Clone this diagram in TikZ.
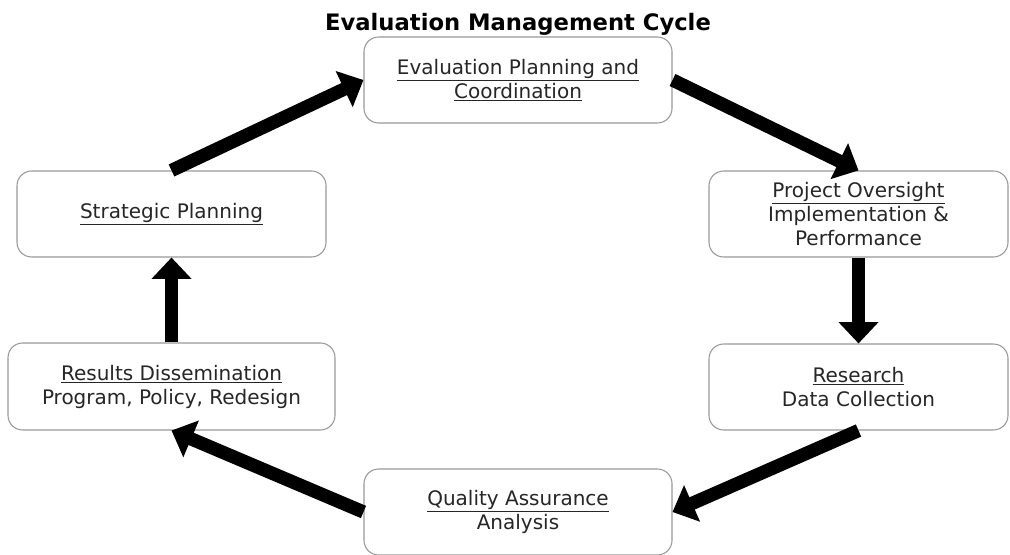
\documentclass[tikz,border=0pt]{standalone}
\usepackage{fontspec}
\setmainfont{DejaVu Sans}
\usetikzlibrary{arrows.meta}
\begin{document}
\begin{tikzpicture}[x=0.75pt,y=-0.75pt,
  box/.style={draw=black!40, line width=0.8pt, rounded corners=11pt, fill=white,
    align=center, font=\fontsize{15}{18}\selectfont, text=black!85, inner sep=0pt},
  bigarrow/.style={line width=10pt, -{Triangle[length=16pt,width=29pt]}}]
\useasboundingbox (0,0) rectangle (1010,555);
\node[font=\bfseries\fontsize{17}{20}\selectfont] (title) at (518,24) {Evaluation Management Cycle};
\node[box, minimum width=308*0.75pt, minimum height=86*0.75pt] (epc) at (518,80) {\underline{Evaluation Planning and}\\\underline{Coordination}};
\node[box, minimum width=299*0.75pt, minimum height=86*0.75pt] (po) at (858.5,214) {\underline{Project Oversight}\\Implementation \&\\Performance};
\node[box, minimum width=299*0.75pt, minimum height=86*0.75pt] (res) at (858.5,387) {\underline{Research}\\Data Collection};
\node[box, minimum width=308*0.75pt, minimum height=86*0.75pt] (qa) at (518,512) {\underline{Quality Assurance}\\Analysis};
\node[box, minimum width=327*0.75pt, minimum height=87*0.75pt] (rd) at (171.5,386.5) {\underline{Results Dissemination}\\Program, Policy, Redesign};
\node[box, minimum width=309*0.75pt, minimum height=86*0.75pt] (sp) at (171.5,214) {\underline{Strategic Planning}};
\draw[bigarrow] (epc.east) -- (po.north);
\draw[bigarrow] (po.south) -- (res.north);
\draw[bigarrow] (res.south) -- (qa.east);
\draw[bigarrow] (qa.west) -- (rd.south);
\draw[bigarrow] (rd.north) -- (sp.south);
\draw[bigarrow] (sp.north) -- (epc.west);
\end{tikzpicture}
\end{document}
